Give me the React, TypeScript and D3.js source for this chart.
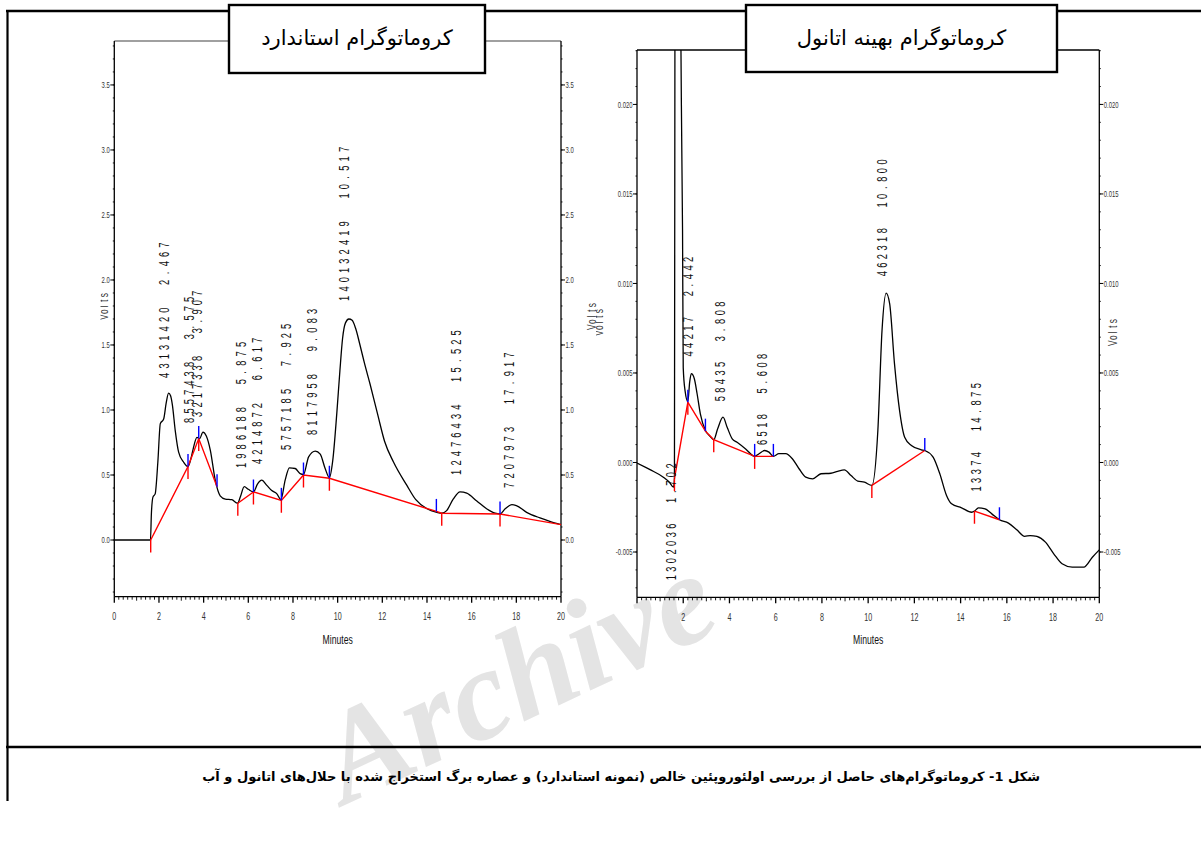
import React from "react";
import * as d3 from "d3";

// ---------- Standard chromatogram (left) ----------
const stdTime = [0, 1.62, 1.66, 1.73, 1.83, 1.95, 2.06, 2.21, 2.32, 2.43, 2.52, 2.6, 2.73, 2.88, 3.1, 3.3, 3.45, 3.55, 3.7, 3.82, 3.97, 4.12, 4.3, 4.52, 4.74, 4.97, 5.26, 5.52, 5.64, 5.82, 6.0, 6.23, 6.41, 6.6, 6.83, 7.05, 7.28, 7.46, 7.65, 7.84, 8.1, 8.32, 8.47, 8.7, 9.0, 9.22, 9.44, 9.63, 9.78, 9.96, 10.1, 10.22, 10.35, 10.5, 10.65, 10.8, 11.0, 11.2, 11.45, 11.8, 12.1, 12.5, 13.1, 13.5, 14.0, 14.44, 14.66, 14.88, 15.18, 15.48, 15.78, 16.23, 16.67, 17.05, 17.27, 17.5, 17.8, 18.0, 18.46, 19.06, 19.5, 20];
const stdSignal = [0, 0, 0.2, 0.33, 0.355, 0.6, 0.895, 0.93, 1.05, 1.13, 1.11, 1.04, 0.84, 0.676, 0.6, 0.565, 0.64, 0.715, 0.79, 0.78, 0.83, 0.8, 0.69, 0.46, 0.34, 0.315, 0.31, 0.283, 0.33, 0.41, 0.39, 0.37, 0.43, 0.46, 0.42, 0.38, 0.355, 0.31, 0.46, 0.555, 0.55, 0.51, 0.504, 0.64, 0.684, 0.66, 0.55, 0.48, 0.61, 0.97, 1.3, 1.55, 1.67, 1.7, 1.69, 1.63, 1.5, 1.36, 1.2, 0.96, 0.76, 0.6, 0.42, 0.31, 0.24, 0.213, 0.206, 0.226, 0.316, 0.37, 0.36, 0.3, 0.24, 0.206, 0.2, 0.24, 0.272, 0.265, 0.213, 0.17, 0.144, 0.118];
const stdBaselineA: [number, number][] = [[1.63, 0], [3.3, 0.565], [3.78, 0.78], [4.6, 0.41]];
const stdBaselineB: [number, number][] = [[5.53, 0.283], [6.23, 0.37], [7.48, 0.305], [8.47, 0.5], [9.63, 0.475], [14.42, 0.22], [14.66, 0.206], [17.27, 0.2], [20, 0.118]];
const stdRedMarks: [number, number][] = [[1.63, 0], [3.3, 0.565], [3.78, 0.78], [5.53, 0.283], [6.23, 0.37], [7.48, 0.305], [8.47, 0.5], [9.63, 0.475], [14.66, 0.206], [17.27, 0.2]];
const stdBlueMarks: [number, number][] = [[3.3, 0.565], [3.78, 0.78], [4.6, 0.41], [6.23, 0.37], [7.48, 0.305], [8.47, 0.5], [9.63, 0.475], [14.42, 0.22], [17.27, 0.2]];
const stdPeakArea = ["43131420", "8557438", "3217338", "1986188", "4214872", "5757185", "8117958", "140132419", "12476434", "7207973"];
const stdPeakTime = ["2.467", "3.575", "3.907", "5.875", "6.617", "7.925", "9.083", "10.517", "15.525", "17.917"];
const stdLabelBase = [1.231, 0.885, 0.931, 0.538, 0.569, 0.677, 0.792, 1.823, 0.485, 0.385];
const stdYDomain: [number, number] = [-0.436, 3.838];

// ---------- Ethanol extract chromatogram (right) ----------
const etTime = [0, 0.565, 1.14, 1.4, 1.58, 1.62, 1.645, 1.72, 1.8, 1.86, 1.97, 2.0, 2.08, 2.2, 2.28, 2.35, 2.48, 2.6, 2.74, 2.96, 3.17, 3.32, 3.49, 3.72, 3.9, 4.12, 4.33, 4.7, 5.09, 5.28, 5.52, 5.71, 5.9, 6.14, 6.43, 6.72, 7.01, 7.3, 7.6, 7.96, 8.39, 8.68, 8.97, 9.26, 9.55, 9.84, 10.16, 10.42, 10.6, 10.78, 10.93, 11.14, 11.36, 11.58, 11.87, 12.3, 12.45, 12.81, 13.1, 13.39, 13.61, 14.04, 14.48, 14.6, 14.77, 15.06, 15.35, 15.68, 16.07, 16.43, 16.77, 17.01, 17.3, 17.67, 18.03, 18.39, 18.83, 19.33, 19.7, 20];
const etSignal = [-0.00003, -0.0004, -0.00082, -0.0011, -0.00138, -0.0009, 0.03, 0.06, 0.06, 0.03, 0.013, 0.0053, 0.004, 0.0034, 0.0045, 0.00496, 0.00468, 0.00384, 0.00272, 0.00179, 0.00145, 0.00127, 0.00188, 0.00253, 0.00197, 0.00132, 0.00113, 0.00076, 0.00034, 0.00049, 0.00067, 0.00058, 0.00034, 0.00049, 0.00049, 0.00021, -0.00035, -0.00082, -0.00091, -0.00063, -0.0006, -0.00049, -0.00041, -0.00073, -0.00104, -0.0011, -0.00128, 0.00179, 0.00737, 0.00946, 0.00887, 0.00551, 0.0029, 0.00141, 0.00095, 0.00071, 0.00067, 0.0003, -0.00063, -0.00184, -0.00231, -0.00253, -0.00278, -0.00272, -0.00253, -0.00259, -0.00287, -0.0032, -0.00339, -0.00376, -0.00413, -0.00408, -0.00413, -0.00445, -0.0051, -0.00566, -0.00585, -0.00585, -0.00529, -0.00488];
const etBaselineA: [number, number][] = [[1.62, -0.0009], [2.2, 0.00337], [2.96, 0.00175], [3.32, 0.00127], [5.09, 0.00034], [5.9, 0.00034]];
const etBaselineB: [number, number][] = [[10.16, -0.00128], [12.45, 0.00067]];
const etBaselineC: [number, number][] = [[14.6, -0.00272], [15.68, -0.0032]];
const etRedMarks: [number, number][] = [[1.62, -0.0009], [2.2, 0.00337], [3.32, 0.00127], [5.09, 0.00034], [10.16, -0.00128], [14.6, -0.00272]];
const etBlueMarks: [number, number][] = [[2.2, 0.00337], [2.96, 0.00175], [5.09, 0.00034], [5.9, 0.00034], [12.45, 0.00067], [15.68, -0.0032]];
const etPeakArea = ["1302036", "44217", "58435", "6518", "462318", "13374"];
const etPeakTime = ["1.702", "2.442", "3.808", "5.608", "10.800", "14.875"];
const etLabelBase = [-0.00668, 0.00582, 0.00332, 0.00088, 0.0103, -0.00172];
const etYDomain: [number, number] = [-0.00753, 0.02304];

const xTickValues = [0, 2, 4, 6, 8, 10, 12, 14, 16, 18, 20];

const leftTitle = "کروماتوگرام استاندارد";
const rightTitle = "کروماتوگرام بهینه اتانول";
const caption = "شکل 1- کروماتوگرام‌های حاصل از بررسی اولئوروپئین خالص (نمونه استاندارد)  و عصاره برگ استخراج شده با حلال‌های اتانول و آب";

const NARROW = "'Liberation Sans', Arial, sans-serif";

function SpacedText({ x, y, text, pitch, size, sx, fill = "#000" }: { x: number; y: number; text: string; pitch: number; size: number; sx: number; fill?: string }) {
  return (
    <g transform={`translate(${x},${y}) rotate(-90)`}>
      {text.split("").map((c, j) =>
        c === " " ? null : (
          <text key={j} transform={`translate(${(j + 0.5) * pitch},0) scale(${sx},1)`} textAnchor="middle" fontSize={size} fill={fill} fontFamily={NARROW}>
            {c}
          </text>
        )
      )}
    </g>
  );
}

type ChromProps = {
  id: string;
  x0: number; x1: number; y0: number; y1: number;
  yDomain: [number, number];
  time: number[]; signal: number[];
  baselines: [number, number][][];
  redMarks: [number, number][]; blueMarks: [number, number][];
  peakArea: string[]; peakTime: string[]; labelBase: number[];
  yMajor: number; yMinor: number; yFmt: string;
  showZeroX: boolean; pitch: number; topColor: string;
};

function Chromatogram(p: ChromProps) {
  const xs = d3.scaleLinear().domain([0, 20]).range([p.x0, p.x1]);
  const ys = d3.scaleLinear().domain(p.yDomain).range([p.y1, p.y0]);
  const pts = p.time.map((t, i) => [t, p.signal[i]] as [number, number]);
  const line = d3.line<[number, number]>().x((d) => xs(d[0])).y((d) => ys(d[1])).curve(d3.curveMonotoneX);
  const straight = d3.line<[number, number]>().x((d) => xs(d[0])).y((d) => ys(d[1]));
  const fmt = d3.format(p.yFmt);
  const k0 = Math.ceil(p.yDomain[0] / p.yMinor - 1e-6);
  const k1 = Math.floor(p.yDomain[1] / p.yMinor + 1e-6);
  const minorY = d3.range(k0, k1 + 1).map((k) => k * p.yMinor);
  const ratio = Math.round(p.yMajor / p.yMinor);
  const majorY = d3.range(k0, k1 + 1).filter((k) => k % ratio === 0).map((k) => k * p.yMinor);
  const minorX = d3.range(0, 101).map((k) => k * 0.2);
  return (
    <g>
      <defs>
        <clipPath id={p.id}>
          <rect x={p.x0} y={p.y0} width={p.x1 - p.x0} height={p.y1 - p.y0} />
        </clipPath>
      </defs>
      <line x1={p.x0} x2={p.x1} y1={p.y0} y2={p.y0} stroke={p.topColor} strokeWidth={1.6} />
      <line x1={p.x0} x2={p.x0} y1={p.y0} y2={p.y1} stroke="#000" strokeWidth={1.3} />
      <line x1={p.x1} x2={p.x1} y1={p.y0} y2={p.y1} stroke="#000" strokeWidth={1.3} />
      <line x1={p.x0} x2={p.x1} y1={p.y1} y2={p.y1} stroke="#000" strokeWidth={1.3} />
      {minorY.map((v, i) => (
        <g key={"my" + i}>
          <line x1={p.x0 - 1.5} x2={p.x0} y1={ys(v)} y2={ys(v)} stroke="#000" strokeWidth={0.9} />
          <line x1={p.x1} x2={p.x1 + 1.5} y1={ys(v)} y2={ys(v)} stroke="#000" strokeWidth={0.9} />
        </g>
      ))}
      {majorY.map((v, i) => {
        const lbl = fmt(v).replace("\u2212", "-");
        return (
          <g key={"My" + i}>
            <line x1={p.x0 - 4} x2={p.x0} y1={ys(v)} y2={ys(v)} stroke="#000" strokeWidth={1} />
            <line x1={p.x1} x2={p.x1 + 4} y1={ys(v)} y2={ys(v)} stroke="#000" strokeWidth={1} />
            <text transform={`translate(${p.x0 - 4.5},${ys(v) + 3.3}) scale(0.62,1)`} textAnchor="end" fontSize={9.5} fill="#333" fontFamily={NARROW}>{lbl}</text>
            <text transform={`translate(${p.x1 + 4.5},${ys(v) + 3.3}) scale(0.62,1)`} textAnchor="start" fontSize={9.5} fill="#333" fontFamily={NARROW}>{lbl}</text>
          </g>
        );
      })}
      {minorX.map((t, i) => (
        <line key={"mx" + i} x1={xs(t)} x2={xs(t)} y1={p.y1} y2={p.y1 + (i % 10 === 0 ? 6 : i % 5 === 0 ? 4 : 3)} stroke="#000" strokeWidth={i % 10 === 0 ? 1.3 : 0.9} />
      ))}
      {xTickValues.filter((t) => p.showZeroX || t !== 0).map((t) => (
        <text key={"xl" + t} transform={`translate(${xs(t)},${p.y1 + 23.5}) scale(0.62,1)`} textAnchor="middle" fontSize={11.5} fill="#333" fontFamily={NARROW}>{t}</text>
      ))}
      <text transform={`translate(${(p.x0 + p.x1) / 2},${p.y1 + 47}) scale(0.72,1)`} textAnchor="middle" fontSize={12} fill="#111" fontFamily={NARROW}>Minutes</text>
      <g clipPath={`url(#${p.id})`}>
        <path d={line(pts) || ""} fill="none" stroke="#000" strokeWidth={1.3} />
        {p.baselines.map((b, i) => (
          <path key={"b" + i} d={straight(b) || ""} fill="none" stroke="#ff0000" strokeWidth={1.4} />
        ))}
        {p.redMarks.map((m, i) => (
          <line key={"r" + i} x1={xs(m[0])} x2={xs(m[0])} y1={ys(m[1])} y2={ys(m[1]) + 12.5} stroke="#ff0000" strokeWidth={1.4} />
        ))}
        {p.blueMarks.map((m, i) => (
          <line key={"u" + i} x1={xs(m[0])} x2={xs(m[0])} y1={ys(m[1])} y2={ys(m[1]) - 12.5} stroke="#0000ff" strokeWidth={1.4} />
        ))}
      </g>
      {p.peakArea.map((a, i) => (
        <SpacedText key={"pl" + i} x={xs(parseFloat(p.peakTime[i]))} y={ys(p.labelBase[i])} text={a + "  " + p.peakTime[i]} pitch={p.pitch} size={15.5} sx={0.6} fill="#111" />
      ))}
    </g>
  );
}

function TitleBox({ x, y, w, h, text }: { x: number; y: number; w: number; h: number; text: string }) {
  return (
    <g>
      <rect x={x} y={y} width={w} height={h} fill="#fff" stroke="#000" strokeWidth={2.4} />
      <text x={x + w / 2} y={y + 40} textAnchor="middle" fontSize={21} fontFamily="'DejaVu Sans', sans-serif" fill="#000" direction="rtl">{text}</text>
    </g>
  );
}

export default function App() {
  return (
    <svg width={1201} height={861} style={{ position: "absolute", left: 0, top: 0, background: "#fff" }}>
      <defs>
        <clipPath id="vclipL"><rect x={100.5} y={250} width={14} height={120} /></clipPath>
        <clipPath id="vclipR"><rect x={596} y={250} width={14} height={120} /></clipPath>
      </defs>
      <text transform="translate(345,805) rotate(-25)" fontSize={130} fontStyle="italic" fontWeight="bold" fontFamily="'Liberation Serif', serif" fill="#e4e4e4">Archive</text>
      <line x1={6} x2={1201} y1={11} y2={11} stroke="#000" strokeWidth={2.6} />
      <line x1={7.5} x2={7.5} y1={10} y2={801} stroke="#000" strokeWidth={2.2} />
      <line x1={6} x2={1201} y1={747} y2={747} stroke="#000" strokeWidth={2.6} />

      <Chromatogram id="clipStd" x0={114.3} x1={561} y0={41} y1={596.7} yDomain={stdYDomain}
        time={stdTime} signal={stdSignal} baselines={[stdBaselineA, stdBaselineB]}
        redMarks={stdRedMarks} blueMarks={stdBlueMarks} peakArea={stdPeakArea} peakTime={stdPeakTime}
        labelBase={stdLabelBase} yMajor={0.5} yMinor={0.1} yFmt=".1f" showZeroX={true} pitch={9.3} topColor="#808080" />
      <Chromatogram id="clipEt" x0={637} x1={1099.3} y0={50} y1={597.3} yDomain={etYDomain}
        time={etTime} signal={etSignal} baselines={[etBaselineA, etBaselineB, etBaselineC]}
        redMarks={etRedMarks} blueMarks={etBlueMarks} peakArea={etPeakArea} peakTime={etPeakTime}
        labelBase={etLabelBase} yMajor={0.005} yMinor={0.001} yFmt=".3f" showZeroX={false} pitch={8.6} topColor="#000" />

      <SpacedText x={596} y={330} text="Volts" pitch={5.5} size={12} sx={0.7} fill="#333" />
      <SpacedText x={1116.5} y={346} text="Volts" pitch={5.5} size={12} sx={0.7} fill="#333" />
      <g clipPath="url(#vclipL)"><SpacedText x={108} y={320} text="Volts" pitch={5.5} size={12} sx={0.7} fill="#333" /></g>
      <g clipPath="url(#vclipR)"><SpacedText x={603} y={336} text="Volts" pitch={5.5} size={12} sx={0.7} fill="#333" /></g>

      <TitleBox x={229} y={5} w={256} h={68} text={leftTitle} />
      <TitleBox x={746} y={5} w={311} h={67} text={rightTitle} />

      <text x={1040} y={781} textAnchor="start" direction="rtl" fontSize={13} fontWeight="bold" fontFamily="'DejaVu Sans', sans-serif" fill="#000">{caption}</text>
    </svg>
  );
}
